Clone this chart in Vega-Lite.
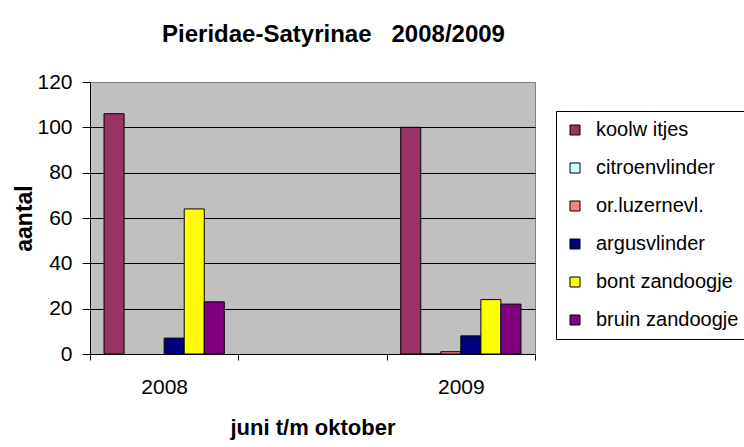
{
  "$schema": "https://vega.github.io/schema/vega-lite/v6.json",
  "width": 445,
  "height": 272,
  "autosize": {"type": "none"},
  "padding": {"left": 90, "top": 82, "right": 209, "bottom": 93},
  "background": "white",
  "title": {
    "text": "Pieridae-Satyrinae \u00a0 2008/2009",
    "font": "Liberation Sans",
    "fontSize": 24,
    "fontWeight": "bold",
    "color": "black",
    "anchor": "middle",
    "baseline": "alphabetic",
    "dx": 21,
    "offset": 5
  },
  "data": {
    "values": [
      {"jaar": "2008", "soort": "koolw itjes", "aantal": 106},
      {"jaar": "2008", "soort": "argusvlinder", "aantal": 7},
      {"jaar": "2008", "soort": "bont zandoogje", "aantal": 64},
      {"jaar": "2008", "soort": "bruin zandoogje", "aantal": 23},
      {"jaar": "2009", "soort": "koolw itjes", "aantal": 100},
      {"jaar": "2009", "soort": "citroenvlinder", "aantal": 0},
      {"jaar": "2009", "soort": "or.luzernevl.", "aantal": 1},
      {"jaar": "2009", "soort": "argusvlinder", "aantal": 8},
      {"jaar": "2009", "soort": "bont zandoogje", "aantal": 24},
      {"jaar": "2009", "soort": "bruin zandoogje", "aantal": 22}
    ]
  },
  "mark": {"type": "bar", "stroke": "black", "strokeWidth": 1},
  "encoding": {
    "x": {
      "field": "jaar",
      "type": "nominal",
      "scale": {"domain": ["2008", "", "2009"], "paddingInner": 0, "paddingOuter": 0},
      "axis": {
        "title": "juni t/m oktober",
        "labelAngle": 0,
        "tickBand": "extent",
        "domainColor": "black",
        "tickColor": "black",
        "tickSize": 6,
        "labelPadding": 16,
        "labelFontSize": 21,
        "titleFontSize": 22,
        "titlePadding": 20
      }
    },
    "xOffset": {
      "field": "soort",
      "type": "nominal",
      "scale": {
        "domain": ["koolw itjes", "citroenvlinder", "or.luzernevl.", "argusvlinder", "bont zandoogje", "bruin zandoogje"],
        "paddingInner": 0,
        "paddingOuter": 0.7
      }
    },
    "y": {
      "field": "aantal",
      "type": "quantitative",
      "scale": {"domain": [0, 120], "nice": false},
      "axis": {
        "title": "aantal",
        "values": [0, 20, 40, 60, 80, 100, 120],
        "grid": true,
        "gridColor": {"condition": {"test": "datum.value == 120", "value": "#808080"}, "value": "black"},
        "gridOpacity": 1,
        "domainColor": "black",
        "tickColor": "black",
        "tickSize": 8,
        "labelPadding": 10,
        "labelFontSize": 21,
        "titleFontSize": 23,
        "titlePadding": 0
      }
    },
    "color": {
      "field": "soort",
      "type": "nominal",
      "scale": {
        "domain": ["koolw itjes", "citroenvlinder", "or.luzernevl.", "argusvlinder", "bont zandoogje", "bruin zandoogje"],
        "range": ["#993366", "#ccffff", "#ff8080", "#000080", "#ffff00", "#800080"]
      },
      "legend": {
        "title": null,
        "orient": "none",
        "legendX": 466,
        "legendY": 29,
        "symbolType": "square",
        "symbolSize": 100,
        "symbolStrokeColor": "black",
        "symbolStrokeWidth": 1,
        "symbolOpacity": 1,
        "labelFontSize": 20,
        "labelFont": "Liberation Sans",
        "labelColor": "black",
        "labelOffset": 11,
        "rowPadding": 18,
        "padding": 9,
        "strokeColor": "black",
        "fillColor": "white"
      }
    }
  },
  "config": {
    "view": {"fill": "#c0c0c0", "stroke": "#808080", "strokeWidth": 1},
    "axis": {
      "labelFont": "Liberation Sans",
      "labelColor": "black",
      "titleFont": "Liberation Sans",
      "titleFontWeight": "bold",
      "titleColor": "black"
    }
  }
}
